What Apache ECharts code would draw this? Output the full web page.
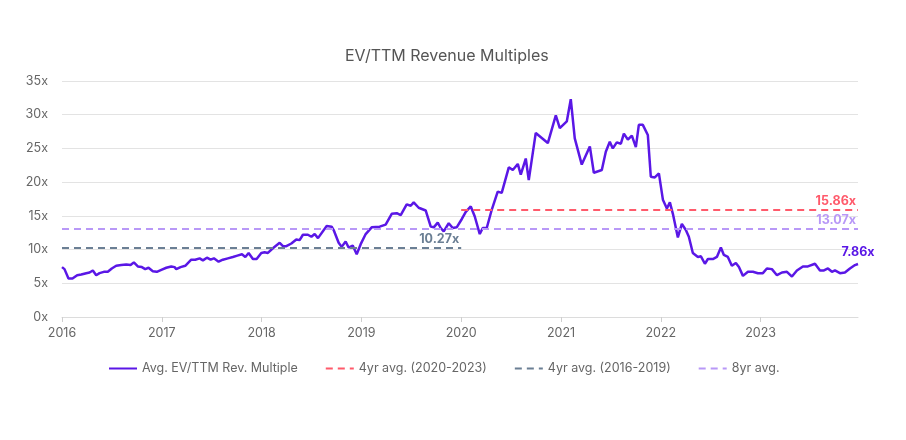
<!DOCTYPE html>
<html>
<head>
<meta charset="utf-8">
<script src="https://cdn.jsdelivr.net/npm/echarts@6/dist/echarts.min.js"></script>
<style>
html,body{margin:0;padding:0;background:#fff;}
#chart{width:906px;height:440px;}
</style>
</head>
<body>
<div id="chart"></div>
<script>
// Dates as decimal years
const dates = [
2016.000,2016.025,2016.065,2016.105,2016.152,2016.193,2016.243,2016.276,2016.309,2016.343,
2016.376,2016.419,2016.459,2016.499,2016.543,2016.594,2016.644,2016.687,2016.720,2016.760,
2016.800,2016.834,2016.867,2016.910,2016.950,2016.995,2017.045,2017.095,2017.128,2017.145,
2017.188,2017.235,2017.295,2017.335,2017.379,2017.412,2017.452,2017.489,2017.522,2017.569,
2017.612,2017.662,2017.712,2017.757,2017.803,2017.837,2017.870,2017.913,2017.950,2017.997,
2018.030,2018.063,2018.113,2018.181,2018.214,2018.248,2018.298,2018.348,2018.381,2018.414,
2018.464,2018.499,2018.532,2018.565,2018.652,2018.702,2018.722,2018.772,2018.802,2018.842,
2018.872,2018.913,2018.953,2018.993,2019.043,2019.103,2019.183,2019.243,2019.304,2019.354,
2019.394,2019.454,2019.494,2019.524,2019.574,2019.644,2019.695,2019.725,2019.765,2019.795,
2019.825,2019.875,2019.915,2019.955,2020.005,2020.046,2020.096,2020.136,2020.186,2020.216,
2020.256,2020.306,2020.366,2020.406,2020.477,2020.517,2020.567,2020.597,2020.647,2020.677,
2020.747,2020.868,2020.948,2020.988,2021.058,2021.098,2021.138,2021.208,2021.289,2021.329,
2021.409,2021.449,2021.489,2021.519,2021.559,2021.600,2021.630,2021.670,2021.710,2021.750,
2021.780,2021.820,2021.870,2021.900,2021.940,2021.981,2022.021,2022.061,2022.091,2022.121,
2022.171,2022.211,2022.251,2022.281,2022.321,2022.372,2022.402,2022.442,2022.472,2022.522,
2022.562,2022.602,2022.632,2022.672,2022.712,2022.752,2022.783,2022.823,2022.873,2022.923,
2022.973,2023.023,2023.063,2023.113,2023.164,2023.214,2023.264,2023.314,2023.364,2023.424,
2023.474,2023.545,2023.595,2023.635,2023.675,2023.715,2023.745,2023.795,2023.845,2023.895,
2023.946,2023.976
];
const multiples = [
7.4,7.1,5.7,5.7,6.2,6.3,6.5,6.6,6.9,6.2,
6.5,6.7,6.7,7.2,7.6,7.7,7.8,7.7,8.1,7.5,
7.4,7.1,7.3,6.8,6.7,7.0,7.3,7.5,7.4,7.1,
7.4,7.6,8.5,8.5,8.7,8.4,8.8,8.5,8.7,8.2,
8.5,8.7,8.9,9.1,9.3,8.9,9.5,8.6,8.6,9.5,
9.6,9.5,10.2,11.0,10.5,10.5,10.9,11.5,11.4,12.2,
12.2,11.9,12.3,11.7,13.5,13.4,12.9,11.0,10.4,11.2,
10.3,10.6,9.3,10.8,12.3,13.3,13.4,13.7,15.3,15.4,
15.1,16.7,16.5,17.0,16.2,15.8,13.4,13.3,14.0,13.2,
12.7,13.9,13.2,13.3,14.5,15.6,16.4,14.9,12.3,13.2,
13.2,15.9,18.6,18.4,22.2,21.8,22.7,21.1,23.5,20.3,
27.3,25.8,29.9,28.0,29.0,32.3,26.5,22.6,25.3,21.4,
21.8,24.5,26.0,25.0,25.9,25.7,27.2,26.3,26.9,25.2,
28.5,28.5,27.0,20.8,20.7,21.3,17.4,16.1,17.0,15.3,
11.8,13.8,12.9,11.9,9.5,8.9,9.0,7.9,8.6,8.6,
8.9,10.3,9.2,8.9,7.6,8.0,7.4,6.1,6.7,6.7,
6.5,6.5,7.2,7.1,6.2,6.6,6.7,6.0,6.9,7.5,
7.5,7.9,6.9,6.9,7.2,6.7,6.9,6.5,6.6,7.2,
7.7,7.86
];
const yearTicks = [2016,2017,2018,2019,2020,2021,2022,2023];
const yTicks = [0,5,10,15,20,25,30,35];

const seriesNames = ['Avg. EV/TTM Rev. Multiple','4yr avg. (2020-2023)','4yr avg. (2016-2019)','8yr avg.'];
const avgValues = [15.86, 10.27, 13.07];
const avgStarts = [2020, 2016, 2016];
const avgEnds = [dates[dates.length-1], 2020, dates[dates.length-1]];
const colors = ['#5a17e6','#ff5a6b','#6b7f94','#b898f7'];

const FONT = 'Inter';
const chart = echarts.init(document.getElementById('chart'));
const lastIdx = dates.length - 1;

const avgSeries = avgValues.map((v, i) => ({
  name: seriesNames[i+1],
  type: 'line',
  symbol: 'none',
  data: [],
  color: colors[i+1],
  lineStyle: {color: colors[i+1], width: 2, type: [7,5]},
  markLine: {
    silent: true,
    symbol: ['none','none'],
    animation: false,
    lineStyle: {color: colors[i+1], width: 2, type: [7,5]},
    label: {
      show: true,
      position: 'insideEndTop',
      distance: 2,
      formatter: v.toFixed(2) + 'x',
      color: colors[i+1],
      fontFamily: FONT,
      fontWeight: 'bold',
      fontSize: 12.5
    },
    emphasis: {disabled: true},
    data: [[{coord: [avgStarts[i], v]}, {coord: [avgEnds[i], v]}]]
  }
}));

chart.setOption({
  animation: false,
  textStyle: {fontFamily: FONT},
  title: {
    text: 'EV/TTM Revenue Multiples',
    left: 340,
    top: 43,
    textStyle: {fontFamily: FONT, fontSize: 16, fontWeight: 'normal', color: '#555'}
  },
  legend: {
    top: 357,
    left: 103,
    itemWidth: 28,
    itemHeight: 10,
    itemGap: 27,
    itemStyle: {opacity: 0},
    textStyle: {fontFamily: FONT, fontSize: 12.5, color: '#666'},
    data: seriesNames
  },
  grid: {left: 62, right: 48, top: 81, bottom: 123},
  xAxis: {
    type: 'value',
    min: 2016,
    max: dates[lastIdx],
    interval: 1,
    splitLine: {show: false},
    axisLine: {lineStyle: {color: '#dcdcdc'}},
    axisTick: {show: true, length: 5, lineStyle: {color: '#cfcfcf'}, customValues: yearTicks},
    axisLabel: {color: '#666', fontSize: 12.5, margin: 10, customValues: yearTicks, formatter: v => String(Math.round(v))}
  },
  yAxis: {
    type: 'value',
    min: 0,
    max: 35,
    interval: 5,
    axisLine: {show: false},
    axisTick: {show: false},
    splitLine: {lineStyle: {color: '#e3e3e3'}},
    axisLabel: {color: '#666', fontSize: 12.5, margin: 14, formatter: '{value}x'}
  },
  series: [
    {
      name: seriesNames[0],
      type: 'line',
      symbol: 'none',
      color: colors[0],
      lineStyle: {color: colors[0], width: 2.5},
      data: dates.map((d, i) => [d, multiples[i]]),
      markPoint: {
        silent: true,
        symbol: 'circle',
        symbolSize: 0,
        animation: false,
        label: {
          show: true,
          position: 'top',
          distance: 5,
          color: colors[0],
          fontFamily: FONT,
          fontWeight: 'bold',
          fontSize: 12.5,
          formatter: multiples[lastIdx].toFixed(2) + 'x'
        },
        data: [{coord: [dates[lastIdx], multiples[lastIdx]]}]
      }
    },
    ...avgSeries
  ]
});
</script>
</body>
</html>
